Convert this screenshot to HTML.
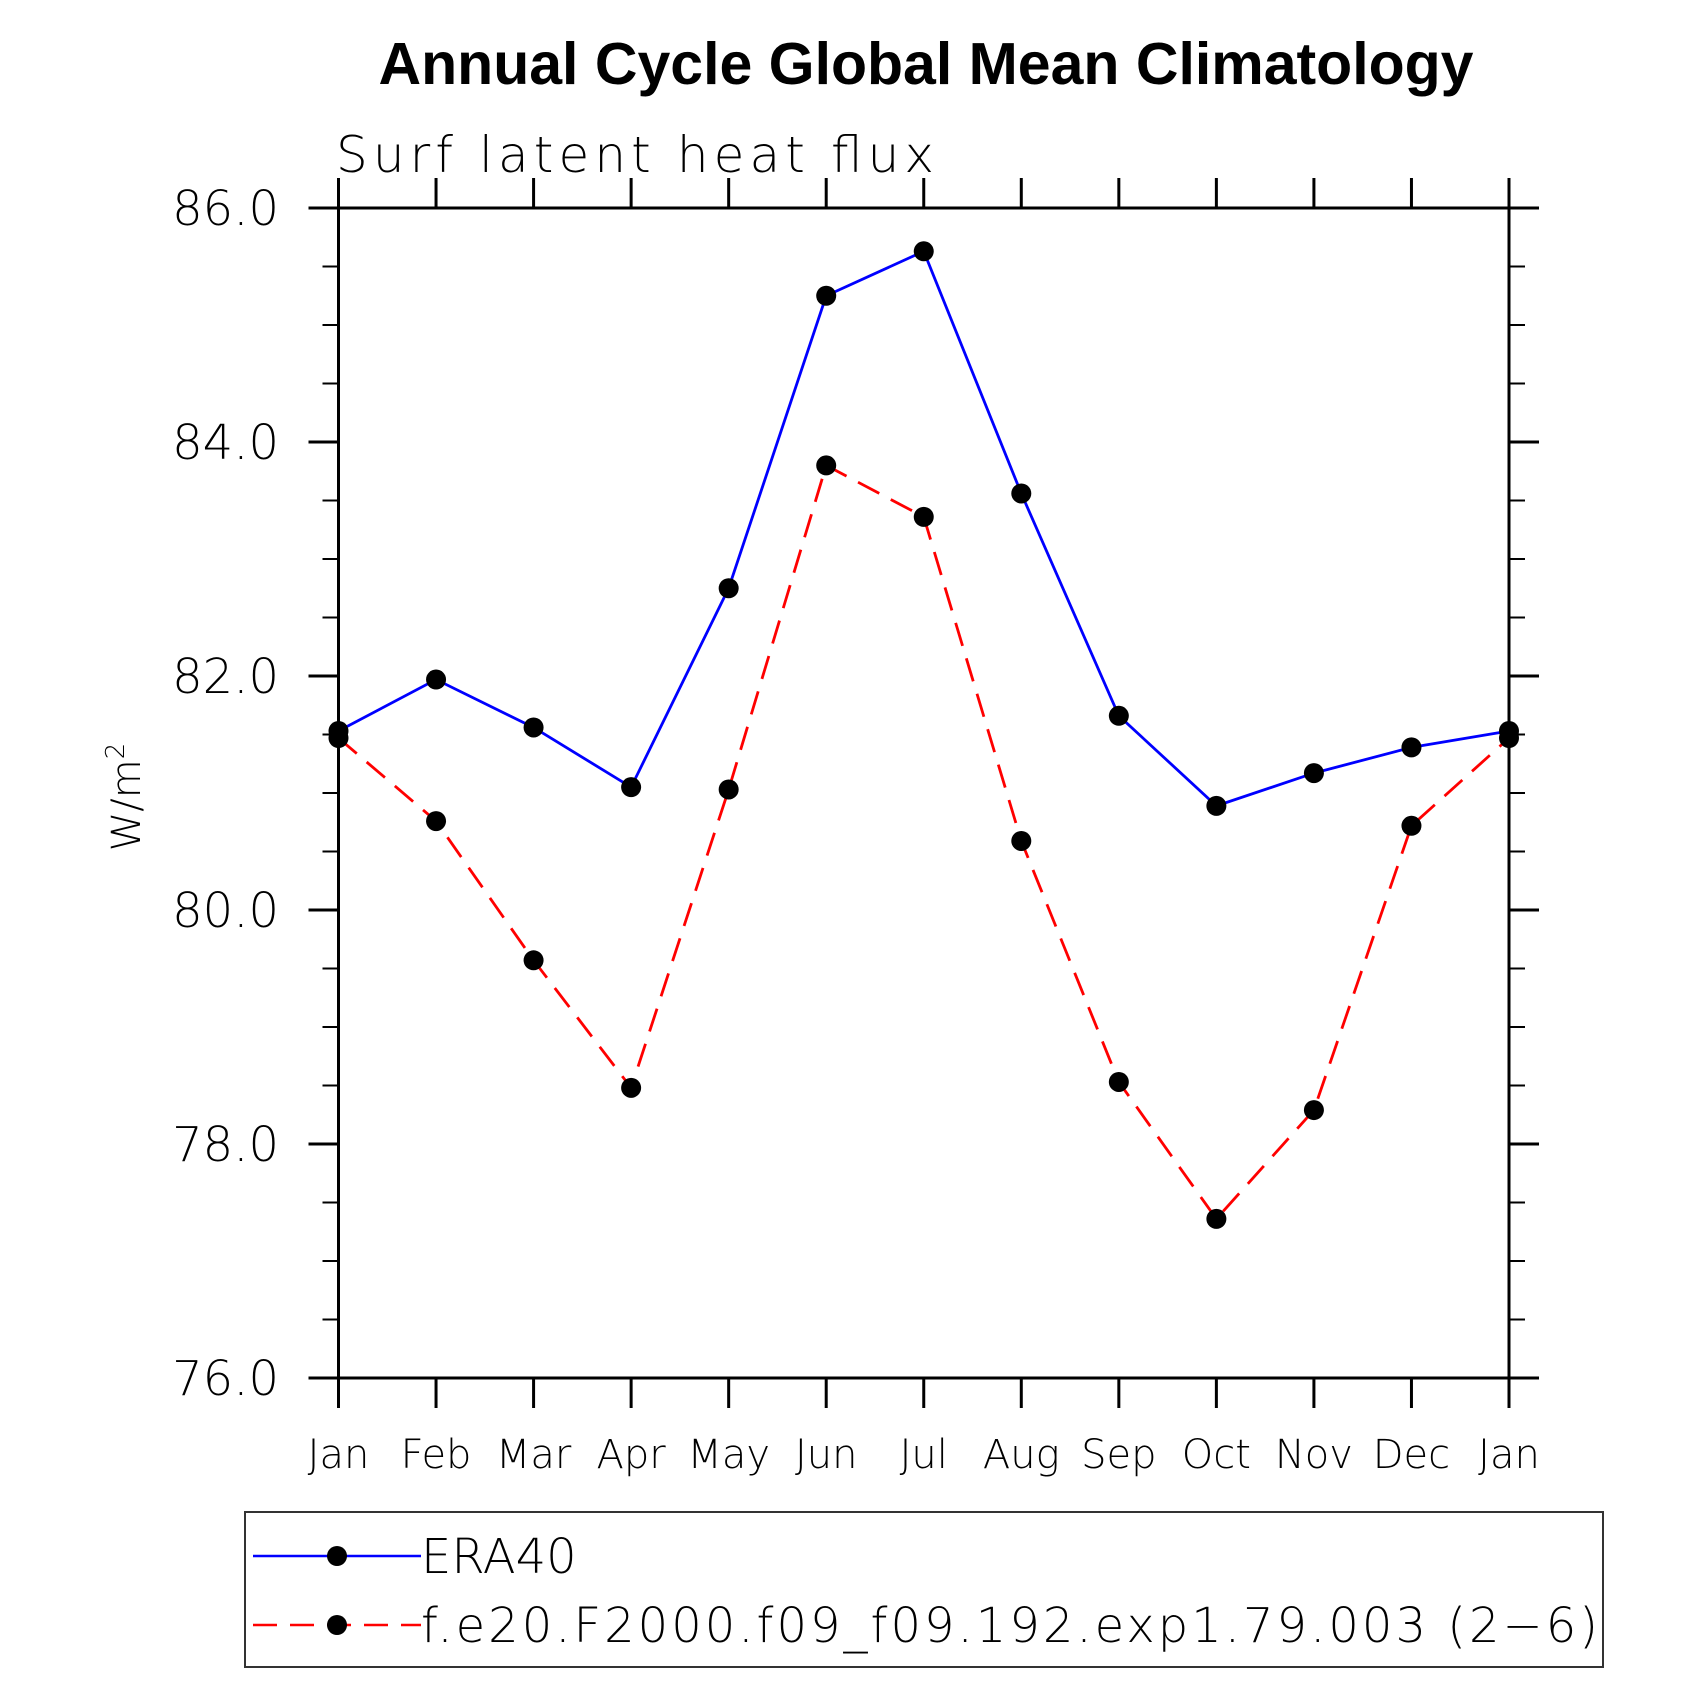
<!DOCTYPE html>
<html><head><meta charset="utf-8"><style>body{margin:0;background:#fff}svg{display:block}text{font-family:"DejaVu Sans","Liberation Sans",sans-serif}</style></head>
<body>
<svg id="chart" width="1708" height="1708" viewBox="0 0 1708 1708">
<text x="926" y="84" text-anchor="middle" font-weight="bold" font-size="59" style="font-family:'Liberation Sans',sans-serif">Annual Cycle Global Mean Climatology</text>
<text x="336" y="172" font-size="50" font-weight="200" textLength="598">Surf latent heat flux</text>
<text transform="translate(140,797) rotate(-90)" text-anchor="middle" font-size="40" font-weight="200">W/m<tspan font-size="26" dy="-16">2</tspan></text>
<g id="axes"></g>
<g id="series"></g>
<rect x="245" y="1512" width="1358" height="155" fill="none" stroke="#333" stroke-width="2"/>
<g>
<line x1="253" y1="1556" x2="421" y2="1556" stroke="#0000ff" stroke-width="2.5"/>
<circle cx="337" cy="1556" r="10" fill="#000"/>
<text x="421" y="1573" font-size="48" font-weight="200">ERA40</text>
</g>
<g>
<line x1="253" y1="1625" x2="421" y2="1625" stroke="#ff0000" stroke-width="2.5" stroke-dasharray="24,13"/>
<circle cx="337" cy="1625" r="10" fill="#000"/>
<text x="421" y="1642" font-size="48" font-weight="200" textLength="1177">f.e20.F2000.f09_f09.192.exp1.79.003 (2−6)</text>
</g>
</svg>
<script>
const months=["Jan","Feb","Mar","Apr","May","Jun","Jul","Aug","Sep","Oct","Nov","Dec","Jan"];
const era40=[81.53,81.97,81.56,81.05,82.75,85.25,85.63,83.56,81.66,80.89,81.17,81.39,81.53];
const model=[81.47,80.76,79.57,78.48,81.03,83.80,83.36,80.59,78.53,77.36,78.29,80.72,81.47];
const yTicks=[76,78,80,82,84,86];
const yTickLabels=["76.0","78.0","80.0","82.0","84.0","86.0"];
const L=338.5,R=1509,T=208,B=1378,YMIN=76,YMAX=86;
const NS="http://www.w3.org/2000/svg";
function x(i){return L+(R-L)*i/(months.length-1);}
function y(v){return B-(v-YMIN)/(YMAX-YMIN)*(B-T);}
function mk(tag,a,p){const e=document.createElementNS(NS,tag);for(const k in a)e.setAttribute(k,a[k]);p.appendChild(e);return e;}
const ax=document.getElementById('axes');
const frame=mk('rect',{x:L,y:T,width:R-L,height:B-T,fill:'none',stroke:'#000','stroke-width':3},ax);


months.forEach((m,i)=>{
  const px=x(i);
  mk('line',{x1:px,y1:B,x2:px,y2:B+30,stroke:'#000','stroke-width':3},ax);
  mk('line',{x1:px,y1:T,x2:px,y2:T-30,stroke:'#000','stroke-width':3},ax);
  const t=mk('text',{x:px,y:1468,'text-anchor':'middle','font-size':40,'font-weight':200},ax);
  t.textContent=m;
  
  
});
for(let v=YMIN;v<=YMAX+1e-9;v+=0.5){
  const py=y(v);const major=Math.abs(v-Math.round(v/2)*2)<1e-6;
  const len=major?30:16;
  mk('line',{x1:L-len,y1:py,x2:L,y2:py,stroke:'#000','stroke-width':major?3:2},ax);
  mk('line',{x1:R,y1:py,x2:R+len,y2:py,stroke:'#000','stroke-width':major?3:2},ax);
}
yTicks.forEach((v,i)=>{
  const t=mk('text',{x:279,y:y(v)+17,'text-anchor':'end','font-size':48,'font-weight':200},ax);
  t.textContent=yTickLabels[i];
  
  
});
const sg=document.getElementById('series');
function draw(data,color,dash,name){
  const g=mk('g',{},sg);
  
  
  const a={points:data.map((v,i)=>x(i)+','+y(v)).join(' '),fill:'none',stroke:color,'stroke-width':2.8};
  if(dash)a['stroke-dasharray']=dash;
  mk('polyline',a,g);
  data.forEach((v,i)=>{const c=mk('circle',{cx:x(i),cy:y(v),r:10,fill:'#000'},g);
    
    });
}
draw(model,'#ff0000','24,13','model-series');
draw(era40,'#0000ff',null,'era40-series');
</script>
</body></html>
